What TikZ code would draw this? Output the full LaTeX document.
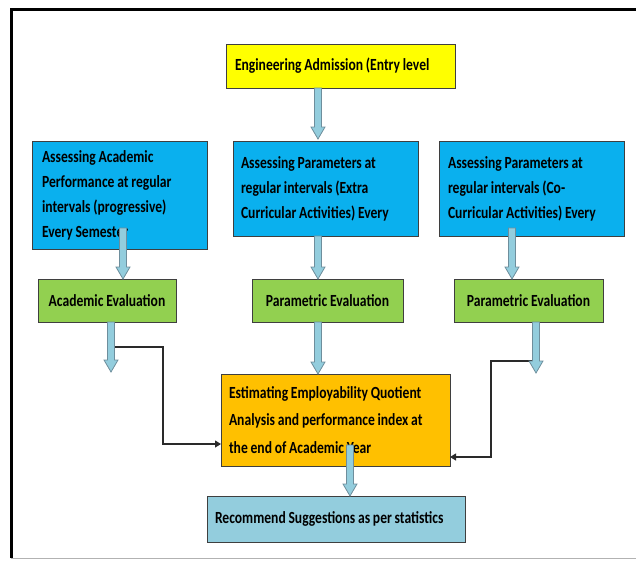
\documentclass[tikz,border=0pt]{standalone}
\usepackage{fontspec}
\usetikzlibrary{calc,arrows.meta}
\newfontfamily\cf[FakeStretch=0.8,WordSpace=0.9]{Carlito}
\hyphenpenalty=10000
\exhyphenpenalty=10000
\definecolor{cyanbox}{HTML}{0AB0EE}
\definecolor{greenbox}{HTML}{92D050}
\definecolor{yellowbox}{HTML}{FFFF00}
\definecolor{orangebox}{HTML}{FFC000}
\definecolor{lbluebox}{HTML}{93CDDD}
\definecolor{arrfill}{HTML}{93CDDD}
\definecolor{arrline}{HTML}{6E8E9C}
\definecolor{boxline}{HTML}{3F3F3F}
\definecolor{conline}{HTML}{2A2A2A}
\tikzset{
  box/.style={draw=boxline, line width=1pt, inner xsep=0pt, inner ysep=0pt, outer sep=0pt, anchor=north west, align=flush left,
    font=\cf\bfseries\fontsize{17}{25}\selectfont},
  gbox/.style={box, fill=greenbox, align=flush center},
  blockarrow/.style={fill=arrfill, draw=arrline, line width=0.8pt, line join=miter},
  conn/.style={draw=conline, line width=1.1pt, -{Triangle[length=6pt,width=7pt]}},
}
\newcommand\blk[2]{%
  \path let \p1=(#1), \p2=(#2) in [blockarrow]
    (\x1-3.5pt,\y1) -- (\x1+3.5pt,\y1) -- (\x1+3.5pt,\y2+12pt) -- (\x1+7pt,\y2+12pt) --
    (\x1,\y2) -- (\x1-7pt,\y2+12pt) -- (\x1-3.5pt,\y2+12pt) -- cycle;}
\begin{document}
\begin{tikzpicture}[x=1pt,y=-1pt]
\useasboundingbox (0,0) rectangle (636,560);
% frame
\draw[line width=3pt, black] (11,558) -- (11,9) -- (640,9);
\draw[line width=0.8pt, black!30] (11,558) -- (640,558);

% boxes
\node[box, fill=yellowbox, minimum width=229pt, minimum height=44pt, text width=211pt] (adm) at (226,44) {Engineering Admission (Entry level};
\node[box, fill=cyanbox, minimum width=175pt, minimum height=108pt, text width=155pt] (b1) at (32,141)
  {Assessing Academic\\Performance at regular\\intervals (progressive)\\Every Semester};
\node[box, fill=cyanbox, minimum width=185pt, minimum height=95pt, text width=169pt] (b2) at (233,141)
  {Assessing Parameters at\\regular intervals (Extra\\Curricular Activities) Every};
\node[box, fill=cyanbox, minimum width=185pt, minimum height=95pt, text width=167pt] (b3) at (439,141)
  {Assessing Parameters at\\regular intervals (Co-\\Curricular Activities) Every};
\node[gbox, minimum width=138pt, minimum height=43pt] (g1) at (38,279) {Academic Evaluation};
\node[gbox, minimum width=151pt, minimum height=43pt] (g2) at (252,279) {Parametric Evaluation};
\node[gbox, minimum width=149pt, minimum height=43pt] (g3) at (454,279) {Parametric Evaluation};
\node[box, fill=orangebox, minimum width=229pt, minimum height=92pt, text width=213pt,
  font=\cf\bfseries\fontsize{17}{27.5}\selectfont] (est) at (221,374)
  {Estimating Employability Quotient\\Analysis and performance index at\\the end of Academic Year};
\node[box, fill=lbluebox, minimum width=258pt, minimum height=46pt, text width=242pt] (rec) at (207,496)
  {Recommend Suggestions as per statistics};

% block arrow end points
\coordinate (a0s) at (318,88);  \coordinate (a0e) at (318,139);
\coordinate (a1s) at (123,228); \coordinate (a1e) at (123,279);
\coordinate (a2s) at (318,236); \coordinate (a2e) at (318,279);
\coordinate (a3s) at (512,228); \coordinate (a3e) at (512,279);
\coordinate (a4s) at (111,322); \coordinate (a4e) at (111,372);
\coordinate (a5s) at (318,322); \coordinate (a5e) at (318,374);
\coordinate (a6s) at (536,322); \coordinate (a6e) at (536,373);
\coordinate (a7s) at (350,445); \coordinate (a7e) at (350,496);

% connectors (thin)
\coordinate (l0) at (111,347);
\coordinate (l1) at (163,347);
\coordinate (r0) at (536,361);
\coordinate (r1) at (491,361);
\draw[conn] (l0) -- (l1) |- ([yshift=-24pt]est.west);
\draw[conn] (r0) -- (r1) |- ([yshift=-37pt]est.east);

% block arrows
\blk{a0s}{a0e}
\blk{a1s}{a1e}
\blk{a2s}{a2e}
\blk{a3s}{a3e}
\blk{a4s}{a4e}
\blk{a5s}{a5e}
\blk{a6s}{a6e}
\blk{a7s}{a7e}
\end{tikzpicture}
\end{document}
